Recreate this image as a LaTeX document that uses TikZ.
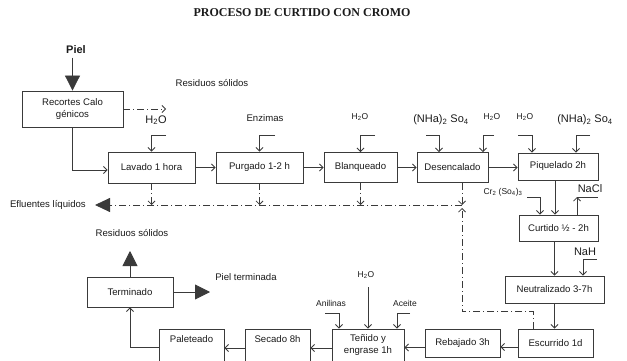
\documentclass[tikz,border=0pt]{standalone}
\usepackage{fontspec}
\setmainfont{Liberation Serif}
\setsansfont{Liberation Sans}
\usepackage{xcolor}
\definecolor{lineclr}{HTML}{3A3A3A}
\definecolor{textclr}{HTML}{1A1A1A}
\usetikzlibrary{arrows.meta,positioning,calc}

\begin{document}
\begin{tikzpicture}[x=1pt,y=-1pt,
  stage/.style={draw=lineclr,line width=0.85pt,rectangle,inner sep=1pt,align=center,
    font=\sffamily\fontsize{9.6}{12}\selectfont,text=textclr},
  tag/.style={font=\sffamily\fontsize{9.6}{10}\selectfont,text=textclr,inner sep=0pt},
  tagsm/.style={font=\sffamily\fontsize{8.5}{9}\selectfont,text=textclr,inner sep=0pt},
  tagbig/.style={font=\sffamily\fontsize{11}{12}\selectfont,text=textclr,inner sep=0pt},
  flow/.style={draw=lineclr,line width=0.85pt,-{Straight Barb[length=3.5pt,width=7pt]}},
  waste/.style={flow,dash pattern=on 7pt off 3pt on 1pt off 3pt},
  bigtip/.style={draw=lineclr,line width=0.85pt,-{Triangle[length=15pt,width=15pt]}}]
  \path[use as bounding box,clip] (0,0) rectangle (627,361);

  % Title
  \node[font=\bfseries\fontsize{12}{13}\selectfont,text=textclr] (title) at (302,13) {PROCESO DE CURTIDO CON CROMO};

  % Top row
  \node[font=\sffamily\bfseries\fontsize{11}{12}\selectfont,text=textclr] (piel) at (76,50) {Piel};
  \node[stage,minimum width=101,minimum height=36] (recortes) at (72.5,109) {Recortes Calo\\génicos};
  \node[stage,minimum width=87,minimum height=31] (lavado) at (151.5,167.5) {Lavado 1 hora};
  \node[stage,minimum width=87,minimum height=31] (purgado) at (259.5,167.5) {Purgado 1-2 h};
  \node[stage,minimum width=73,minimum height=30] (blanq) at (360.5,167.5) {Blanqueado};
  \node[stage,minimum width=71,minimum height=30] (desenc) at (452.5,167.5) {Desencalado};
  \node[stage,minimum width=80,minimum height=27] (piquel) at (558,166.5) {Piquelado 2h};

  % Right column
  \node[stage,minimum width=79,minimum height=26] (curtido) at (558.5,228) {Curtido ½ - 2h};
  \node[stage,minimum width=99,minimum height=27] (neutral) at (554.5,289.5) {Neutralizado 3-7h};
  \node[stage,minimum width=75,minimum height=28] (escurr) at (555.5,343) {Escurrido 1d};

  % Bottom row
  \node[stage,minimum width=75,minimum height=28] (rebaj) at (462.5,343) {Rebajado 3h};
  \node[stage,minimum width=72,minimum height=33] (tenido) at (368,345.5) {Teñido y\\engrase 1h};
  \node[stage,minimum width=65,minimum height=33] (secado) at (277.5,345.5) {Secado 8h\\\mbox{}};
  \node[stage,minimum width=65,minimum height=33] (paleteado) at (191.5,345.5) {Paleteado\\\mbox{}};
  \node[stage,minimum width=86,minimum height=30] (terminado) at (130,292) {Terminado};

  % Labels
  \node[tag] (resid1) at (212,83) {Residuos sólidos};
  \node[tagbig] (h2oa) at (156,120) {H\textsubscript{2}O};
  \node[tag] (enzimas) at (265,118) {Enzimas};
  \node[tagsm] (h2ob) at (360,117) {H\textsubscript{2}O};
  \node[tagbig] (nhaa) at (441,120) {(NHa)\textsubscript{2} So\textsubscript{4}};
  \node[tagsm] (h2oc) at (492,117) {H\textsubscript{2}O};
  \node[tagsm] (h2od) at (525,117) {H\textsubscript{2}O};
  \node[tagbig] (nhab) at (585,120) {(NHa)\textsubscript{2} So\textsubscript{4}};
  \node[tagsm] (cr) at (503,192) {Cr\textsubscript{2} (So\textsubscript{4})\textsubscript{3}};
  \node[tagbig] (nacl) at (590,189) {NaCl};
  \node[tagbig] (nah) at (585,252) {NaH};
  \node[tagsm] (anil) at (331,303) {Anilinas};
  \node[tagsm] (h2oe) at (366,275) {H\textsubscript{2}O};
  \node[tagsm] (aceite) at (405,303) {Aceite};
  \node[tag,anchor=east] (efluentes) at (86,205) {Efluentes líquidos};
  \node[tag] (resid2) at (132,233) {Residuos sólidos};
  \node[tag] (pielterm) at (246,277) {Piel terminada};

  % Free ends
  \coordinate (outRec) at (166,109);
  \coordinate (inH2Oa) at (166,135);
  \coordinate (inEnz) at (275,135);
  \coordinate (inH2Ob) at (375,135);
  \coordinate (inNHa) at (426,135);
  \coordinate (inH2Oc) at (494,135);
  \coordinate (inH2Od) at (518,135);
  \coordinate (inNHb) at (590,135);
  \coordinate (inCr) at (527,197);
  \coordinate (outNaCl) at (577,197);
  \coordinate (endNaCl) at (598,197);
  \coordinate (inNaH) at (597,259);
  \coordinate (inAnil) at (325,313);
  \coordinate (inH2Oe) at (368,287);
  \coordinate (inAceite) at (410,313);
  \coordinate (eff) at (462,205);
  \coordinate (effend) at (95,205);
  \coordinate (termup) at (130,251);
  \coordinate (termout) at (210,292);

  % Main flow
  \draw[bigtip] (recortes.north |- piel.south) -- (recortes.north);
  \draw[waste] (recortes.east) -- (outRec);
  \draw[flow] (recortes.south) |- ([yshift=-2.5pt]lavado.west);
  \draw[flow] (lavado.east) -- (purgado.west);
  \draw[flow] (purgado.east) -- (blanq.west);
  \draw[flow] (blanq.east) -- (desenc.west);
  \draw[flow] (desenc.east) -- (desenc.east -| piquel.west);
  \draw[flow] ([xshift=-3pt]piquel.south) -- ([xshift=-3pt]piquel.south |- curtido.north);
  \draw[flow] (curtido.south -| neutral.north) -- (neutral.north);
  \draw[flow] (neutral.south) -- (neutral.south |- escurr.north);
  \draw[flow] ([yshift=-4pt]escurr.west) -- ([yshift=-4pt]escurr.west -| rebaj.east);
  \draw[flow] ([yshift=-4.5pt]rebaj.west) -- ([yshift=-4.5pt]rebaj.west -| tenido.east);
  \draw[flow] ([yshift=-2.5pt]tenido.west) -- ([yshift=-2.5pt]tenido.west -| secado.east);
  \draw[flow] ([yshift=-2.5pt]secado.west) -- ([yshift=-2.5pt]secado.west -| paleteado.east);
  \draw[flow] ([yshift=-1.5pt]paleteado.west) -| (terminado.south);
  \draw[bigtip] (terminado.north) -- (termup);
  \draw[bigtip] (terminado.east) -- (termout);

  % Inputs
  \draw[flow] (inH2Oa) -| (lavado.north);
  \draw[flow] (inEnz) -| (purgado.north);
  \draw[flow] (inH2Ob) -| (blanq.north);
  \draw[flow] (inNHa) -| ([xshift=-13.5pt]desenc.north);
  \draw[flow] (inH2Oc) -| ([xshift=30.5pt]desenc.north);
  \draw[flow] (inH2Od) -| ([xshift=-26pt]piquel.north);
  \draw[flow] (inNHb) -| ([xshift=18pt]piquel.north);
  \draw[flow] (inCr) -| ([xshift=-18.5pt]curtido.north);
  \draw[flow] ([xshift=18.5pt]curtido.north) -- (outNaCl);
  \draw[draw=lineclr,line width=0.85pt] (outNaCl) -- (endNaCl);
  \draw[flow] (inNaH) -| ([xshift=28.5pt]neutral.north);
  \draw[flow] (inAnil) -| ([xshift=-29pt]tenido.north);
  \draw[flow] (inH2Oe) -- (tenido.north);
  \draw[flow] (inAceite) -| ([xshift=29pt]tenido.north);

  % Liquid effluents
  \draw[waste] (lavado.south) -- (lavado.south |- eff);
  \draw[waste] (purgado.south) -- (purgado.south |- eff);
  \draw[waste] (blanq.south) -- (blanq.south |- eff);
  \draw[waste] ([xshift=9.5pt]desenc.south) -- ([xshift=9.5pt]desenc.south |- eff);
  \draw[waste] ([xshift=-22.5pt]escurr.north) -- ++(0,-17) -| ($(eff)+(0,3)$);
  \draw[draw=lineclr,line width=0.85pt,dash pattern=on 7pt off 3pt on 1pt off 3pt,
    -{Triangle[length=15pt,width=14pt]}] (eff) -- (effend);
\end{tikzpicture}
\end{document}
